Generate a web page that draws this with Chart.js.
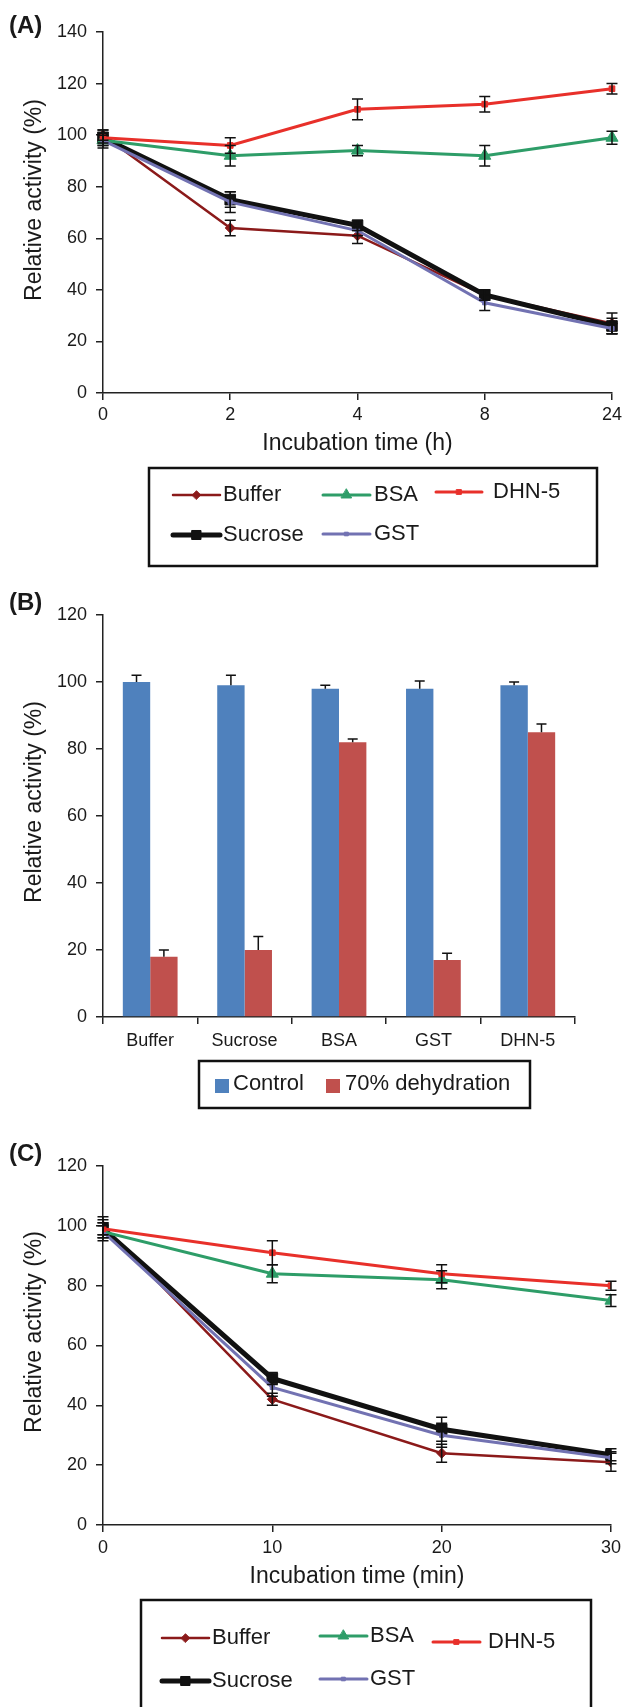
<!DOCTYPE html>
<html>
<head>
<meta charset="utf-8">
<script src="https://cdn.jsdelivr.net/npm/chart.js@4.4.1/dist/chart.umd.min.js"></script>
<style>
html,body{margin:0;padding:0;background:#fff;}
#wrap{position:relative;width:626px;height:1707px;overflow:hidden;background:#fff;}
.pane{position:absolute;left:0;width:626px;}
canvas{display:block;}
</style>
</head>
<body>
<div id="wrap">
  <div class="pane" style="top:0;height:580px"><canvas id="cA" width="626" height="580"></canvas></div>
  <div class="pane" style="top:580px;height:550px"><canvas id="cB" width="626" height="550"></canvas></div>
  <div class="pane" style="top:1130px;height:577px"><canvas id="cC" width="626" height="577"></canvas></div>
</div>
<script>
// ---------------- DATA ----------------
const seriesNames = ['Buffer', 'Sucrose', 'BSA', 'GST', 'DHN-5'];

// Panel A: incubation time (h)
const timesA = ['0', '2', '4', '8', '24'];
const bufferA     = [100, 64, 61, 38, 27];
const bufferAErr  = [2, 3, 3, 2, 4];
const sucroseA    = [99, 75, 65, 38, 26];
const sucroseAErr = [3, 3, 2, 2, 3];
const bsaA        = [98, 92, 94, 92, 99];
const bsaAErr     = [3, 4, 2, 4, 2.5];
const gstA        = [98, 74, 63, 35, 25];
const gstAErr     = [2, 4, 2, 3, 2];
const dhnA        = [99, 96, 110, 112, 118];
const dhnAErr     = [2, 3, 4, 3, 2];
const yTicksA = [0, 20, 40, 60, 80, 100, 120, 140];

// Panel B: relative activity after dehydration
const categoriesB = ['Buffer', 'Sucrose', 'BSA', 'GST', 'DHN-5'];
const barSeriesB  = ['Control', '70% dehydration'];
const controlB    = [100, 99, 98, 98, 99];
const controlBErr = [2, 3, 1, 2.3, 1];
const dehydB      = [18, 20, 82, 17, 85];
const dehydBErr   = [2, 4, 1, 2, 2.5];
const yTicksB = [0, 20, 40, 60, 80, 100, 120];

// Panel C: incubation time (min)
const timesC = [0, 10, 20, 30];
const bufferC     = [100, 42, 24, 21];
const bufferCErr  = [3, 2, 3, 3];
const sucroseC    = [99, 49, 32, 23.5];
const sucroseCErr = [3, 2, 4, 2];
const bsaC        = [98, 84, 82, 75];
const bsaCErr     = [3, 3, 3, 2];
const gstC        = [98, 46, 30, 22.5];
const gstCErr     = [2, 3, 4, 2];
const dhnC        = [99, 91, 84, 80];
const dhnCErr     = [2, 4, 3, 1.5];
const yTicksC = [0, 20, 40, 60, 80, 100, 120];

const yTitle = 'Relative activity (%)';

// ---------------- STYLES ----------------
const FONT = "'Liberation Sans', Arial, Helvetica, sans-serif";
const TEXT = '#1a1a1a';
const AXIS = '#222222';
const seriesStyle = {
  'Buffer':  {color: '#8b1a1a', width: 2.5, point: 'rectRot', r: 5},
  'Sucrose': {color: '#111111', width: 5,   point: 'rect',    r: 7.5},
  'BSA':     {color: '#2e9d68', width: 3,   point: 'triangle', r: 7},
  'GST':     {color: '#7272b2', width: 3,   point: 'rect',    r: 3},
  'DHN-5':   {color: '#e8302a', width: 3,   point: 'rect',    r: 4}
};
const barColors = {'Control': '#4f81bd', '70% dehydration': '#c0504d'};

// ---------------- PLUGINS ----------------
const errorBarsPlugin = {
  id: 'errorBars',
  afterDatasetsDraw(chart, args, opts) {
    const ctx = chart.ctx;
    const yScale = chart.scales.y;
    ctx.save();
    ctx.strokeStyle = opts.color || '#111';
    ctx.lineWidth = opts.width || 1.5;
    ctx.lineCap = 'butt';
    chart.data.datasets.forEach((ds, i) => {
      if (!ds.errors) return;
      const meta = chart.getDatasetMeta(i);
      meta.data.forEach((el, j) => {
        const raw = ds.data[j];
        const v = (raw !== null && typeof raw === 'object') ? raw.y : raw;
        const e = ds.errors[j];
        const x = el.x;
        const yTop = yScale.getPixelForValue(v + e);
        const yBot = opts.plusOnly ? yScale.getPixelForValue(v) : yScale.getPixelForValue(v - e);
        const c = opts.cap || 5;
        ctx.beginPath();
        ctx.moveTo(x, yTop); ctx.lineTo(x, yBot);
        ctx.moveTo(x - c, yTop); ctx.lineTo(x + c, yTop);
        if (!opts.plusOnly) { ctx.moveTo(x - c, yBot); ctx.lineTo(x + c, yBot); }
        ctx.stroke();
      });
    });
    ctx.restore();
  }
};

const boxLegendPlugin = {
  id: 'boxLegend',
  afterDraw(chart, args, opts) {
    if (!opts || !opts.box) return;
    const ctx = chart.ctx;
    const b = opts.box;
    ctx.save();
    ctx.lineWidth = 2.5;
    ctx.strokeStyle = '#111';
    ctx.strokeRect(b.left, b.top, b.right - b.left, b.bottom - b.top);
    ctx.font = opts.fontSize + 'px ' + FONT;
    ctx.textBaseline = 'middle';
    ctx.textAlign = 'left';
    opts.items.forEach(it => {
      const ds = chart.data.datasets.find(d => d.label === it.label);
      if (!ds) return;
      if (opts.kind === 'line') {
        ctx.strokeStyle = ds.borderColor;
        ctx.lineWidth = ds.borderWidth;
        ctx.lineCap = 'round';
        ctx.beginPath(); ctx.moveTo(it.x0, it.y); ctx.lineTo(it.x1, it.y); ctx.stroke();
        ctx.fillStyle = ds.pointBackgroundColor;
        ctx.strokeStyle = ds.pointBorderColor;
        ctx.lineWidth = 1;
        Chart.helpers.drawPoint(ctx, {pointStyle: ds.pointStyle, radius: ds.pointRadius * 0.85, rotation: 0, borderWidth: 1}, (it.x0 + it.x1) / 2, it.y);
      } else {
        ctx.fillStyle = ds.backgroundColor;
        ctx.fillRect(it.x0, it.y - it.s / 2, it.s, it.s);
      }
      ctx.fillStyle = TEXT;
      ctx.fillText(ds.label, it.tx, it.ty !== undefined ? it.ty : it.y);
    });
    ctx.restore();
  }
};

// panel letter and rotated y-axis title
const panelTextPlugin = {
  id: 'panelText',
  afterDraw(chart, args, opts) {
    if (!opts) return;
    const ctx = chart.ctx;
    ctx.save();
    ctx.fillStyle = TEXT;
    if (opts.label) {
      ctx.font = 'bold 24px ' + FONT;
      ctx.textBaseline = 'middle';
      ctx.textAlign = 'left';
      ctx.fillText(opts.label.text, opts.label.x, opts.label.y);
    }
    if (opts.yTitle) {
      ctx.font = '23px ' + FONT;
      ctx.textBaseline = 'middle';
      ctx.textAlign = 'center';
      ctx.translate(opts.yTitle.x, opts.yTitle.y);
      ctx.rotate(-Math.PI / 2);
      ctx.fillText(opts.yTitle.text, 0, 0);
    }
    ctx.restore();
  }
};

Chart.register(errorBarsPlugin, boxLegendPlugin, panelTextPlugin);
Chart.defaults.font.family = FONT;
Chart.defaults.color = TEXT;

// ---------------- HELPERS ----------------
function lineDatasets(values, errors, xs) {
  return seriesNames.map((name, i) => {
    const s = seriesStyle[name];
    const data = xs ? xs.map((x, j) => ({x: x, y: values[i][j]})) : values[i];
    return {
      label: name,
      data: data,
      errors: errors[i],
      borderColor: s.color,
      backgroundColor: s.color,
      borderWidth: s.width,
      pointStyle: s.point,
      pointRadius: s.r,
      pointBackgroundColor: s.color,
      pointBorderColor: s.color,
      pointBorderWidth: 1,
      tension: 0,
      fill: false,
      order: seriesNames.length - 1 - i
    };
  });
}

function yAxis(ticks) {
  return {
    type: 'linear',
    min: ticks[0],
    max: ticks[ticks.length - 1],
    afterBuildTicks: (axis) => { axis.ticks = ticks.map(v => ({value: v})); },
    afterFit: (axis) => { axis.width = 103; },
    ticks: {font: {size: 18}, color: TEXT, padding: 9},
    grid: {display: true, drawOnChartArea: false, drawTicks: true, tickLength: 7, color: AXIS, lineWidth: 1.5},
    border: {display: true, color: AXIS, width: 1.5},
    title: {display: false}
  };
}

function xAxisGrid() {
  return {display: true, drawOnChartArea: false, drawTicks: true, tickLength: 7, color: AXIS, lineWidth: 1.5};
}

// ---------------- PANEL A ----------------
new Chart(document.getElementById('cA'), {
  type: 'line',
  data: {
    labels: timesA,
    datasets: lineDatasets([bufferA, sucroseA, bsaA, gstA, dhnA], [bufferAErr, sucroseAErr, bsaAErr, gstAErr, dhnAErr])
  },
  options: {
    responsive: false, animation: false, events: [],
    layout: {padding: {left: 0, top: 32, right: 12, bottom: 123}},
    plugins: {
      legend: {display: false}, tooltip: {enabled: false},
      errorBars: {cap: 5.5, width: 1.5},
      panelText: {label: {text: '(A)', x: 9, y: 26}, yTitle: {text: yTitle, x: 35, y: 200}},
      boxLegend: {
        kind: 'line', fontSize: 22,
        box: {left: 149, top: 468, right: 597, bottom: 566},
        items: [
          {label: 'Buffer',  x0: 173, x1: 220, y: 495, tx: 223},
          {label: 'BSA',     x0: 323, x1: 370, y: 495, tx: 374},
          {label: 'DHN-5',   x0: 436, x1: 482, y: 492, tx: 493},
          {label: 'Sucrose', x0: 173, x1: 220, y: 535, tx: 223},
          {label: 'GST',     x0: 323, x1: 370, y: 534, tx: 374}
        ]
      }
    },
    scales: {
      x: {
        type: 'category', offset: false,
        afterFit: (axis) => { axis.height = 64; },
        ticks: {font: {size: 18}, color: TEXT, padding: 4, maxRotation: 0, autoSkip: false},
        grid: xAxisGrid(),
        border: {display: true, color: AXIS, width: 1.5},
        title: {display: true, text: 'Incubation time (h)', font: {size: 23}, color: TEXT, padding: {top: 4, bottom: 0}}
      },
      y: yAxis(yTicksA)
    }
  }
});

// ---------------- PANEL B ----------------
new Chart(document.getElementById('cB'), {
  type: 'bar',
  data: {
    labels: categoriesB,
    datasets: [
      {label: barSeriesB[0], data: controlB, errors: controlBErr, backgroundColor: barColors[barSeriesB[0]], borderWidth: 0},
      {label: barSeriesB[1], data: dehydB, errors: dehydBErr, backgroundColor: barColors[barSeriesB[1]], borderWidth: 0}
    ]
  },
  options: {
    responsive: false, animation: false, events: [],
    layout: {padding: {left: 0, top: 35, right: 51, bottom: 53}},
    datasets: {bar: {categoryPercentage: 0.58, barPercentage: 1.0}},
    plugins: {
      legend: {display: false}, tooltip: {enabled: false},
      errorBars: {cap: 5, width: 1.5, plusOnly: true},
      panelText: {label: {text: '(B)', x: 9, y: 23}, yTitle: {text: yTitle, x: 35, y: 222}},
      boxLegend: {
        kind: 'bar', fontSize: 22,
        box: {left: 199, top: 481, right: 530, bottom: 528},
        items: [
          {label: 'Control',         x0: 215, s: 14, y: 506, tx: 233, ty: 504},
          {label: '70% dehydration', x0: 326, s: 14, y: 506, tx: 345, ty: 504}
        ]
      }
    },
    scales: {
      x: {
        type: 'category', offset: true,
        afterFit: (axis) => { axis.height = 60; },
        ticks: {font: {size: 18}, color: TEXT, padding: 6, maxRotation: 0, autoSkip: false},
        grid: Object.assign(xAxisGrid(), {offset: true}),
        border: {display: true, color: AXIS, width: 1.5}
      },
      y: yAxis(yTicksB)
    }
  }
});

// ---------------- PANEL C ----------------
new Chart(document.getElementById('cC'), {
  type: 'line',
  data: {
    datasets: lineDatasets([bufferC, sucroseC, bsaC, gstC, dhnC], [bufferCErr, sucroseCErr, bsaCErr, gstCErr, dhnCErr], timesC)
  },
  options: {
    responsive: false, animation: false, events: [],
    layout: {padding: {left: 0, top: 36, right: 12, bottom: 117}},
    plugins: {
      legend: {display: false}, tooltip: {enabled: false},
      errorBars: {cap: 5.5, width: 1.5},
      panelText: {label: {text: '(C)', x: 9, y: 24}, yTitle: {text: yTitle, x: 35, y: 202}},
      boxLegend: {
        kind: 'line', fontSize: 22,
        box: {left: 141, top: 470, right: 591, bottom: 590},
        items: [
          {label: 'Buffer',  x0: 162, x1: 209, y: 508, tx: 212},
          {label: 'BSA',     x0: 320, x1: 367, y: 506, tx: 370},
          {label: 'DHN-5',   x0: 433, x1: 480, y: 512, tx: 488},
          {label: 'Sucrose', x0: 162, x1: 209, y: 551, tx: 212},
          {label: 'GST',     x0: 320, x1: 367, y: 549, tx: 370}
        ]
      }
    },
    scales: {
      x: {
        type: 'linear', min: timesC[0], max: timesC[timesC.length - 1],
        afterBuildTicks: (axis) => { axis.ticks = timesC.map(v => ({value: v})); },
        afterFit: (axis) => { axis.height = 65; },
        ticks: {font: {size: 18}, color: TEXT, padding: 5, maxRotation: 0},
        grid: xAxisGrid(),
        border: {display: true, color: AXIS, width: 1.5},
        title: {display: true, text: 'Incubation time (min)', font: {size: 23}, color: TEXT, padding: {top: 4, bottom: 0}}
      },
      y: yAxis(yTicksC)
    }
  }
});
</script>
</body>
</html>
